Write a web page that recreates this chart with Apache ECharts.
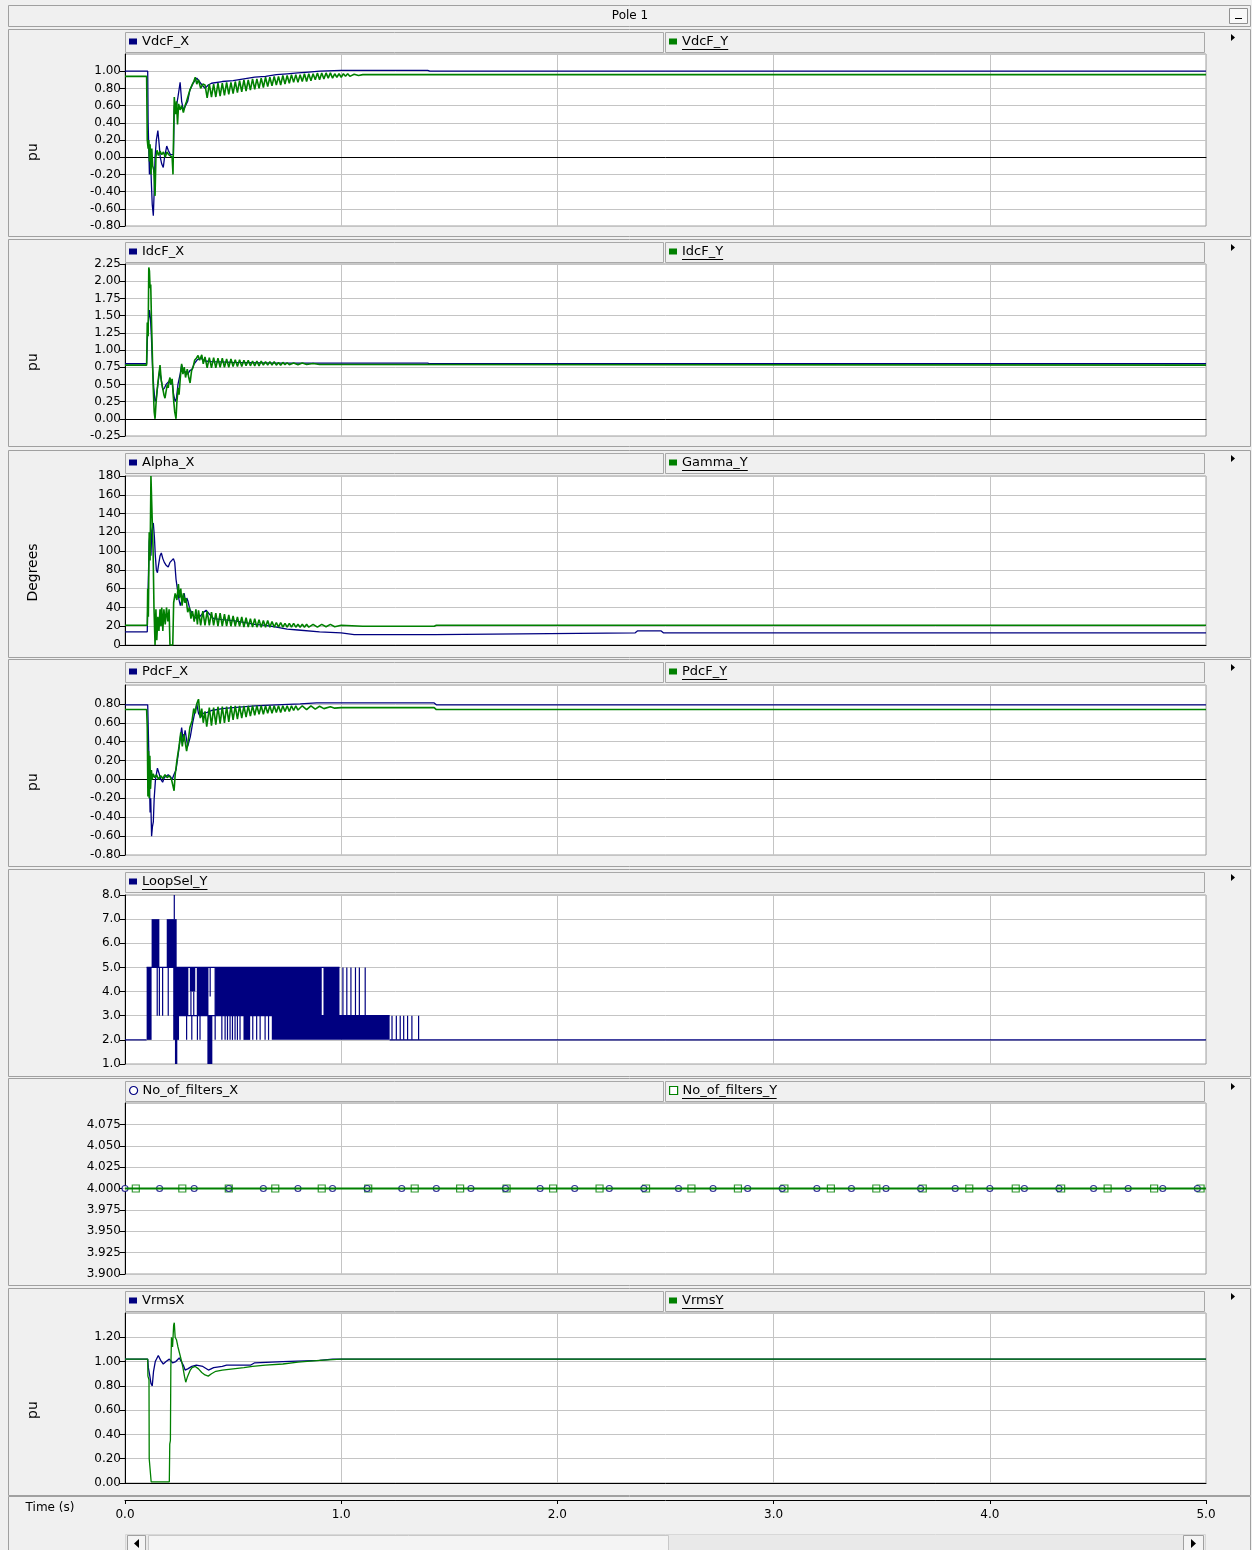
<!DOCTYPE html>
<html>
<head>
<meta charset="utf-8">
<script src="https://cdn.jsdelivr.net/npm/echarts@6/dist/echarts.min.js"></script>
<style>
  html, body { margin: 0; padding: 0; background: #f0f0f0; }
  #chart { width: 1252px; height: 1550px; }
</style>
</head>
<body>
<div id="chart"></div>
<script>
const NAVY = '#000080'
const GREEN = '#008000'
const FONT = '"DejaVu Sans", sans-serif'

// legend names per panel
const legendNames = [
  ['VdcF_X', 'VdcF_Y'],
  ['IdcF_X', 'IdcF_Y'],
  ['Alpha_X', 'Gamma_Y'],
  ['PdcF_X', 'PdcF_Y'],
  ['LoopSel_Y'],
  ['No_of_filters_X', 'No_of_filters_Y'],
  ['VrmsX', 'VrmsY']
]
const axisNames = ['pu', 'pu', 'Degrees', 'pu', '', '', 'pu']
const timeTicks = [0, 1, 2, 3, 4, 5]

// [time s, value]
const vdcX = [[0,1.0],[0.105,1.0],[0.107,0.4],[0.11,0.1],[0.113,-0.2],[0.118,0.0],[0.122,-0.3],[0.126,-0.55],[0.131,-0.68],[0.135,-0.4],[0.139,0.0],[0.145,0.2],[0.152,0.31],[0.158,0.15],[0.163,0.0],[0.17,-0.08],[0.177,-0.12],[0.183,0.0],[0.193,0.13],[0.2,0.08],[0.21,0.03],[0.218,0.05],[0.224,0.03],[0.228,0.6],[0.235,0.55],[0.245,0.7],[0.255,0.87],[0.262,0.65],[0.27,0.55],[0.28,0.6],[0.29,0.65],[0.3,0.78],[0.315,0.86],[0.332,0.92],[0.35,0.86],[0.37,0.8],[0.385,0.84],[0.4,0.86],[0.45,0.88],[0.5,0.89],[0.55,0.91],[0.6,0.93],[0.65,0.94],[0.7,0.96],[0.75,0.97],[0.8,0.98],[0.85,0.99],[0.9,1.0],[1.0,1.01],[1.4,1.01],[1.41,1.0],[5,1.0]]
const vdcY = [[0,0.94],[0.1,0.94],[0.103,0.2],[0.107,0.1],[0.11,0.2],[0.113,-0.05],[0.116,0.15],[0.12,-0.2],[0.124,0.1],[0.128,-0.1],[0.133,-0.15],[0.139,-0.45],[0.143,0.0],[0.148,0.08],[0.155,0.02],[0.162,0.07],[0.17,0.03],[0.178,0.06],[0.186,0.0],[0.194,0.06],[0.202,0.03],[0.21,0.05],[0.218,0.0],[0.222,-0.2],[0.225,0.3],[0.228,0.7],[0.233,0.5],[0.238,0.65],[0.243,0.38],[0.248,0.62],[0.255,0.55],[0.262,0.6],[0.27,0.52],[0.278,0.6],[0.285,0.65],[0.293,0.72],[0.3,0.78],[0.31,0.84],[0.318,0.88],[0.325,0.93],[0.332,0.85],[0.34,0.9],[0.35,0.8],[0.36,0.85],
  [0.37,0.84],[0.38,0.69],[0.39,0.85],[0.4,0.7],[0.41,0.85],[0.42,0.7],[0.43,0.86],[0.44,0.71],[0.45,0.86],[0.46,0.72],[0.47,0.87],[0.48,0.73],[0.49,0.87],[0.5,0.74],[0.51,0.88],[0.52,0.75],[0.53,0.89],[0.54,0.76],[0.55,0.9],[0.56,0.77],[0.57,0.9],[0.58,0.78],[0.59,0.91],[0.6,0.79],[0.61,0.91],[0.62,0.8],[0.63,0.92],[0.64,0.81],[0.65,0.93],[0.66,0.82],[0.67,0.93],[0.68,0.83],[0.69,0.94],[0.7,0.84],[0.71,0.94],[0.72,0.84],[0.73,0.95],[0.74,0.85],[0.75,0.95],[0.76,0.86],[0.77,0.96],[0.78,0.87],[0.79,0.96],[0.8,0.87],[0.81,0.96],[0.82,0.88],[0.83,0.97],[0.84,0.88],[0.85,0.97],[0.86,0.89],[0.87,0.97],[0.88,0.9],[0.89,0.98],[0.9,0.9],[0.91,0.98],[0.92,0.91],[0.93,0.98],[0.94,0.92],[0.95,0.98],[0.96,0.92],[0.97,0.97],[0.98,0.93],[0.99,0.97],[1.0,0.93],[1.01,0.97],[1.02,0.94],[1.03,0.97],[1.04,0.94],[1.06,0.965],[1.08,0.95],[1.1,0.96],[5,0.96]]

const idcX = [[0,0.8],[0.1,0.8],[0.104,1.2],[0.108,1.4],[0.113,1.58],[0.118,1.45],[0.122,1.2],[0.127,0.78],[0.133,0.45],[0.139,0.25],[0.145,0.3],[0.152,0.5],[0.16,0.7],[0.167,0.58],[0.175,0.42],[0.183,0.45],[0.19,0.5],[0.198,0.48],[0.205,0.55],[0.212,0.5],[0.218,0.55],[0.225,0.35],[0.232,0.25],[0.238,0.3],[0.245,0.5],[0.255,0.65],[0.262,0.78],[0.27,0.7],[0.28,0.68],[0.29,0.65],[0.3,0.7],[0.31,0.72],[0.32,0.8],[0.335,0.86],[0.35,0.88],[0.37,0.84],[0.4,0.83],[0.5,0.82],[0.7,0.81],[1.4,0.81],[1.41,0.8],[5,0.8]]
const idcY = [[0,0.78],[0.1,0.78],[0.103,1.4],[0.107,1.2],[0.11,2.2],[0.113,2.15],[0.116,1.9],[0.119,1.95],[0.122,1.5],[0.126,1.0],[0.13,0.5],[0.135,0.1],[0.139,0.0],[0.143,0.2],[0.148,0.4],[0.155,0.6],[0.162,0.78],[0.168,0.55],[0.174,0.45],[0.18,0.35],[0.185,0.3],[0.19,0.4],[0.196,0.5],[0.2,0.45],[0.204,0.55],[0.208,0.6],[0.213,0.5],[0.218,0.58],[0.224,0.3],[0.23,0.1],[0.236,0.0],[0.24,0.25],[0.246,0.45],[0.25,0.35],[0.256,0.6],[0.262,0.8],[0.268,0.65],[0.274,0.75],[0.28,0.6],[0.288,0.72],[0.295,0.6],[0.301,0.52],[0.308,0.7],[0.315,0.75],[0.322,0.85],[0.33,0.88],[0.338,0.92],[0.345,0.85],[0.355,0.93],[0.362,0.8],
  [0.37,0.9],[0.38,0.74],[0.39,0.89],[0.4,0.74],[0.41,0.89],[0.42,0.74],[0.43,0.88],[0.44,0.75],[0.45,0.88],[0.46,0.75],[0.47,0.87],[0.48,0.75],[0.49,0.87],[0.5,0.76],[0.51,0.86],[0.52,0.76],[0.53,0.86],[0.54,0.76],[0.55,0.85],[0.56,0.77],[0.57,0.85],[0.58,0.77],[0.59,0.84],[0.6,0.77],[0.61,0.84],[0.62,0.77],[0.63,0.84],[0.64,0.78],[0.65,0.83],[0.66,0.78],[0.67,0.83],[0.68,0.78],[0.69,0.83],[0.7,0.78],[0.71,0.82],[0.72,0.78],[0.73,0.82],[0.74,0.785],[0.75,0.815],[0.76,0.785],[0.78,0.81],[0.8,0.785],[0.82,0.81],[0.84,0.79],[0.87,0.805],[0.9,0.79],[1.0,0.79],[5,0.78]]

const alphaX = [[0,14],[0.103,14],[0.105,40],[0.108,70],[0.112,110],[0.116,120],[0.12,95],[0.124,122],[0.131,130],[0.136,115],[0.14,96],[0.145,80],[0.15,77],[0.155,85],[0.162,95],[0.168,98],[0.175,92],[0.182,88],[0.19,85],[0.2,83],[0.208,88],[0.216,90],[0.224,92],[0.23,88],[0.236,70],[0.242,60],[0.25,48],[0.256,42],[0.262,40],[0.268,52],[0.274,55],[0.28,45],[0.286,50],[0.292,46],[0.3,38],[0.31,34],[0.32,30],[0.332,28],[0.345,30],[0.36,34],[0.375,37],[0.39,33],[0.41,28],[0.45,27],[0.5,26],[0.55,24],[0.6,22],[0.65,21],[0.7,19],[0.75,17],[0.8,16],[0.9,14],[1.0,13],[1.06,11],[1.435,11],[1.44,13],[2.36,13],[2.37,15],[2.48,15],[2.49,13],[5,13]]
const gammaY = [[0,21],[0.103,21],[0.105,60],[0.108,30],[0.112,120],[0.116,90],[0.12,180],[0.126,180],[0.13,100],[0.134,40],[0.139,0],[0.143,38],[0.147,5],[0.152,30],[0.157,15],[0.162,38],[0.166,20],[0.17,40],[0.175,15],[0.18,38],[0.186,22],[0.192,40],[0.198,25],[0.204,38],[0.208,0],[0.221,0],[0.225,45],[0.232,55],[0.24,48],[0.247,65],[0.252,50],[0.258,60],[0.264,42],[0.27,55],[0.276,45],[0.282,50],[0.29,35],[0.298,40],[0.305,28],[0.312,36],[0.32,25],[0.328,38],[0.335,22],
  [0.34,37],[0.35,21],[0.36,36],[0.37,21],[0.38,36],[0.39,21],[0.4,35],[0.41,21],[0.42,34],[0.43,20],[0.44,34],[0.45,20],[0.46,33],[0.47,20],[0.48,32],[0.49,20],[0.5,31],[0.51,20],[0.52,30],[0.53,20],[0.54,30],[0.55,19],[0.56,29],[0.57,19],[0.58,28],[0.59,19],[0.6,28],[0.61,19],[0.62,27],[0.63,19],[0.64,26],[0.65,19],[0.66,26],[0.67,19],[0.68,25],[0.69,19],[0.7,24],[0.71,19],[0.72,24],[0.73,19],[0.74,23],[0.75,19],[0.76,23],[0.77,19],[0.78,23],[0.79,19],[0.8,22],[0.81,19],[0.82,22],[0.83,19],[0.84,22],[0.85,19],[0.87,22],[0.89,19],[0.91,22],[0.93,19.5],[0.95,22],[0.97,19.5],[1.0,21],[1.1,20],[1.43,20],[1.44,21],[5,21]]

const pdcX = [[0,0.79],[0.105,0.79],[0.108,0.5],[0.113,0.0],[0.116,-0.35],[0.119,-0.2],[0.123,-0.6],[0.127,-0.5],[0.131,-0.45],[0.135,-0.2],[0.141,0.0],[0.15,0.12],[0.159,0.1],[0.166,0.0],[0.174,-0.03],[0.182,0.02],[0.19,0.0],[0.2,0.05],[0.21,0.03],[0.218,0.0],[0.226,0.05],[0.236,0.1],[0.248,0.3],[0.262,0.55],[0.27,0.4],[0.278,0.52],[0.29,0.35],[0.302,0.45],[0.313,0.6],[0.322,0.7],[0.332,0.8],[0.34,0.7],[0.35,0.66],[0.36,0.7],[0.38,0.71],[0.4,0.73],[0.45,0.75],[0.5,0.76],[0.6,0.78],[0.7,0.79],[0.81,0.8],[0.887,0.81],[1.43,0.81],[1.44,0.79],[5,0.79]]
const pdcY = [[0,0.74],[0.1,0.74],[0.103,0.55],[0.106,-0.18],[0.109,0.3],[0.112,-0.2],[0.115,0.25],[0.118,-0.1],[0.122,0.1],[0.126,0.0],[0.13,0.06],[0.138,0.02],[0.146,0.05],[0.155,0.0],[0.165,0.04],[0.175,0.01],[0.185,0.05],[0.195,0.02],[0.205,0.04],[0.215,0.0],[0.222,0.02],[0.227,-0.12],[0.232,0.05],[0.24,0.2],[0.25,0.35],[0.258,0.5],[0.265,0.35],[0.272,0.48],[0.278,0.4],[0.285,0.3],[0.293,0.42],[0.3,0.55],[0.31,0.62],[0.318,0.75],[0.325,0.7],[0.332,0.8],[0.34,0.85],[0.348,0.65],[0.355,0.75],[0.362,0.6],[0.37,0.72],[0.378,0.56],
  [0.39,0.76],[0.4,0.57],[0.41,0.76],[0.42,0.58],[0.43,0.77],[0.44,0.59],[0.45,0.77],[0.46,0.6],[0.47,0.77],[0.48,0.61],[0.49,0.78],[0.5,0.63],[0.51,0.78],[0.52,0.64],[0.53,0.78],[0.54,0.65],[0.55,0.78],[0.56,0.66],[0.57,0.78],[0.58,0.67],[0.59,0.78],[0.6,0.68],[0.61,0.78],[0.62,0.69],[0.63,0.78],[0.64,0.69],[0.65,0.78],[0.66,0.7],[0.67,0.78],[0.68,0.7],[0.69,0.78],[0.7,0.71],[0.71,0.78],[0.72,0.71],[0.73,0.78],[0.74,0.72],[0.75,0.78],[0.76,0.72],[0.77,0.78],[0.78,0.73],[0.79,0.78],[0.8,0.735],[0.82,0.78],[0.84,0.74],[0.86,0.78],[0.88,0.745],[0.9,0.775],[0.92,0.75],[0.95,0.77],[0.97,0.755],[1.0,0.76],[1.43,0.76],[1.44,0.74],[5,0.74]]

// LoopSel_Y: fast switching shown as filled spans [t0, t1, low, high]
const loopBands = [[0.100,0.123,2,5],[0.123,0.159,5,7],[0.193,0.239,5,7],[0.223,0.293,3,5],[0.223,0.250,2,3],[0.231,0.242,1,3],[0.30,0.325,4,5],[0.332,0.386,3,5],[0.381,0.404,1,3],[0.417,0.91,3,5],[0.918,0.992,3,5],[0.548,0.579,2,3],[0.679,1.224,2,3]]
// single switching pulses [t, low, high]
const loopSpikes = [[0.149,3,5],[0.159,3,5],[0.174,3,5],[0.2,3,5],[0.228,7,8],[0.285,2,3],[0.309,2,3],[0.335,2,3],[0.347,2,3],[0.305,3,4],[0.318,3,4],[0.394,3.8,5],[0.417,2,5],[0.448,2,3],[0.463,2,3],[0.474,2,3],[0.486,2,3],[0.497,2,3],[0.509,2,3],[0.52,2,3],[0.532,2,3],[0.591,2,3],[0.609,2,3],[0.625,2,3],[0.648,2,3],[0.664,2,3],[1.008,3,5],[1.026,3,5],[1.045,3,5],[1.066,3,5],[1.084,3,5],[1.111,3,5],[1.235,2,3],[1.255,2,3],[1.273,2,3],[1.289,2,3],[1.307,2,3],[1.327,2,3],[1.358,2,3]]
// held levels [t0, t1, value]
const loopLevels = [[0,0.1,2],[0.1,0.992,5],[0.223,1.224,3],[1.224,5,2]]

const filtXValue = 4.0
const filtYValue = 4.0
const filtXTimes = [0,0.16,0.32,0.48,0.64,0.8,0.96,1.12,1.28,1.44,1.6,1.76,1.92,2.08,2.24,2.4,2.56,2.72,2.88,3.04,3.2,3.36,3.52,3.68,3.84,4.0,4.16,4.32,4.48,4.64,4.8,4.96]
const filtYTimes = [0.05,0.265,0.48,0.695,0.91,1.125,1.34,1.55,1.765,1.98,2.195,2.41,2.62,2.835,3.05,3.265,3.475,3.69,3.905,4.12,4.33,4.545,4.76,4.975]

const vrmsX = [[0,1.02],[0.105,1.02],[0.108,0.95],[0.115,0.88],[0.12,0.82],[0.126,0.8],[0.132,0.92],[0.14,1.0],[0.154,1.05],[0.165,1.01],[0.177,0.98],[0.19,1.0],[0.205,1.02],[0.22,0.99],[0.235,1.0],[0.251,1.03],[0.26,1.02],[0.27,0.97],[0.278,0.93],[0.29,0.94],[0.309,0.96],[0.33,0.97],[0.36,0.96],[0.386,0.93],[0.41,0.95],[0.45,0.96],[0.47,0.97],[0.58,0.97],[0.6,0.99],[0.73,1.0],[0.9,1.01],[0.96,1.02],[5,1.02]]
const vrmsY = [[0,1.02],[0.105,1.02],[0.106,0.88],[0.111,0.85],[0.112,0.2],[0.118,0.2],[0.121,0.01],[0.205,0.01],[0.207,0.32],[0.21,0.35],[0.212,0.95],[0.215,1.2],[0.22,1.12],[0.225,1.3],[0.228,1.32],[0.232,1.2],[0.238,1.18],[0.245,1.12],[0.255,1.05],[0.262,1.0],[0.268,0.95],[0.275,0.88],[0.281,0.83],[0.288,0.87],[0.295,0.86],[0.302,0.93],[0.31,0.95],[0.325,0.96],[0.34,0.94],[0.355,0.91],[0.37,0.89],[0.385,0.88],[0.4,0.9],[0.42,0.92],[0.45,0.93],[0.5,0.94],[0.55,0.95],[0.59,0.96],[0.65,0.97],[0.73,0.98],[0.8,0.995],[0.9,1.01],[1.0,1.02],[5,1.02]]

// layout
const frameTops = [29, 239, 450, 659, 869, 1078, 1288]
const panels = [
  { top: 54, height: 172, min: -0.8, max: 1.2, step: 0.2, digits: 2, hideMax: true, zeroLine: true },
  { top: 264, height: 172, min: -0.25, max: 2.25, step: 0.25, digits: 2, hideMax: false, zeroLine: true },
  { top: 476, height: 169, min: 0, max: 180, step: 20, digits: 0, hideMax: false, zeroLine: true },
  { top: 685, height: 170, min: -0.8, max: 1.0, step: 0.2, digits: 2, hideMax: true, zeroLine: true },
  { top: 895, height: 169, min: 1, max: 8, step: 1, digits: 1, hideMax: false, zeroLine: false },
  { top: 1103, height: 171, min: 3.9, max: 4.1, step: 0.025, digits: 3, hideMax: true, zeroLine: false },
  { top: 1313, height: 170, min: 0, max: 1.4, step: 0.2, digits: 2, hideMax: true, zeroLine: true }
]
const PLOT_LEFT = 125
const PLOT_WIDTH = 1081

const chart = echarts.init(document.getElementById('chart'))

const fmt = (d) => (v) => (Math.abs(v) < 1e-9 ? 0 : v).toFixed(d)

const grids = []
const xAxes = []
const yAxes = []
panels.forEach((p, i) => {
  grids.push({ left: PLOT_LEFT, width: PLOT_WIDTH, top: p.top, height: p.height, show: true, backgroundColor: '#fff', borderColor: '#a0a0a0', borderWidth: 1 })
  xAxes.push({
    gridIndex: i, type: 'value', min: 0, max: 5, interval: 1,
    axisLine: { show: p.zeroLine, onZero: true, lineStyle: { color: '#000', width: 1 } },
    axisTick: { show: false }, axisLabel: { show: false },
    splitLine: { show: true, lineStyle: { color: '#c4c4c4', width: 1 } }
  })
  yAxes.push({
    gridIndex: i, type: 'value', min: p.min, max: p.max, interval: p.step,
    axisLine: { show: true, lineStyle: { color: '#000' } },
    axisTick: { show: true, length: 5, lineStyle: { color: '#000' } },
    axisLabel: { color: '#000', fontSize: 12, fontFamily: FONT, margin: 4, showMaxLabel: !p.hideMax, showMinLabel: true, formatter: fmt(p.digits) },
    splitLine: { show: true, lineStyle: { color: '#c4c4c4', width: 1 } }
  })
})
// shared time axis at the bottom
grids.push({ left: PLOT_LEFT, width: PLOT_WIDTH, top: 1499, height: 1, show: false })
xAxes.push({
  gridIndex: 7, type: 'value', min: timeTicks[0], max: timeTicks[timeTicks.length - 1], interval: 1, position: 'bottom',
  axisLine: { show: true, onZero: false, lineStyle: { color: '#000' } },
  axisTick: { show: true, length: 4, lineStyle: { color: '#000' } },
  axisLabel: { color: '#000', fontSize: 12, fontFamily: FONT, margin: 9, formatter: fmt(1) },
  splitLine: { show: false }
})
yAxes.push({ gridIndex: 7, type: 'value', min: 0, max: 1, show: false })

function line(name, idx, data, color, width) {
  return {
    name, type: 'line', xAxisIndex: idx, yAxisIndex: idx, data,
    showSymbol: false, symbol: 'none', silent: true,
    lineStyle: { color, width }, itemStyle: { color }
  }
}

// LoopSel drawn through the axis scales
const loopSegs = loopSpikes.map(s => [s[0], s[1], s[0], s[2]])
  .concat(loopLevels.map(l => [l[0], l[2], l[1], l[2]]))

const series = [
  line('VdcF_X', 0, vdcX, NAVY, 1.3),
  line('VdcF_Y', 0, vdcY, GREEN, 1.6),
  line('IdcF_X', 1, idcX, NAVY, 1.3),
  line('IdcF_Y', 1, idcY, GREEN, 1.6),
  line('Alpha_X', 2, alphaX, NAVY, 1.3),
  line('Gamma_Y', 2, gammaY, GREEN, 1.6),
  line('PdcF_X', 3, pdcX, NAVY, 1.3),
  line('PdcF_Y', 3, pdcY, GREEN, 1.6),
  {
    name: 'LoopSel_Y', type: 'custom', xAxisIndex: 4, yAxisIndex: 4, silent: true,
    itemStyle: { color: NAVY }, data: loopBands, encode: { x: [0, 1], y: [2, 3] },
    renderItem: (params, api) => {
      const a = api.coord([api.value(0), api.value(3)])
      const b = api.coord([api.value(1), api.value(2)])
      return { type: 'rect', shape: { x: a[0], y: a[1], width: Math.max(b[0] - a[0], 1), height: b[1] - a[1] }, style: { fill: NAVY } }
    }
  },
  {
    name: 'LoopSel_Y', type: 'custom', xAxisIndex: 4, yAxisIndex: 4, silent: true,
    itemStyle: { color: NAVY }, data: loopSegs, encode: { x: [0, 2], y: [1, 3] },
    renderItem: (params, api) => {
      const a = api.coord([api.value(0), api.value(1)])
      const b = api.coord([api.value(2), api.value(3)])
      return { type: 'line', shape: { x1: a[0], y1: a[1], x2: b[0], y2: b[1] }, style: { stroke: NAVY, lineWidth: 1.2 } }
    }
  },
  line('No_of_filters_X', 5, [[0, filtXValue], [5, filtXValue]], NAVY, 1),
  line('No_of_filters_Y', 5, [[0, filtYValue], [5, filtYValue]], GREEN, 2),
  {
    name: 'No_of_filters_Y', type: 'scatter', xAxisIndex: 5, yAxisIndex: 5, silent: true,
    data: filtYTimes.map(t => [t, filtYValue]), symbol: 'rect', symbolSize: 7,
    itemStyle: { color: 'rgba(255,255,255,0)', borderColor: GREEN, borderWidth: 1.2 }
  },
  {
    name: 'No_of_filters_X', type: 'scatter', xAxisIndex: 5, yAxisIndex: 5, silent: true,
    data: filtXTimes.map(t => [t, filtXValue]), symbol: 'circle', symbolSize: 6,
    itemStyle: { color: '#fff', borderColor: NAVY, borderWidth: 1.2 }
  },
  line('VrmsX', 6, vrmsX, NAVY, 1.3),
  line('VrmsY', 6, vrmsY, GREEN, 1.3)
]

// legends: one per entry, placed in the header bars
const legends = []
const graphics = []
const measure = document.createElement('canvas').getContext('2d')
measure.font = '13px ' + FONT

graphics.push({ type: 'rect', z: -10, shape: { x: 8.5, y: 5.5, width: 1242, height: 21 }, style: { fill: '#f0f0f0', stroke: '#a0a0a0' } })
graphics.push({ type: 'text', z: 10, x: 630, y: 16, style: { text: 'Pole 1', font: '12px ' + FONT, fill: '#000', align: 'center', verticalAlign: 'middle', textAlign: 'center', textVerticalAlign: 'middle' } })
graphics.push({ type: 'rect', z: 10, shape: { x: 1229.5, y: 8.5, width: 18, height: 15 }, style: { fill: '#f8f8f8', stroke: '#909090' } })
graphics.push({ type: 'line', z: 11, shape: { x1: 1235, y1: 18.5, x2: 1242, y2: 18.5 }, style: { stroke: '#000', lineWidth: 1 } })

frameTops.forEach((ft, i) => {
  graphics.push({ type: 'rect', z: -10, shape: { x: 8.5, y: ft + 0.5, width: 1242, height: 207 }, style: { fill: '#f0f0f0', stroke: '#a0a0a0' } })
  const barTop = ft + 3
  const names = legendNames[i]
  const boxes = names.length === 1 ? [[125, 1079]] : [[125, 538], [665, 539]]
  boxes.forEach((b, k) => {
    graphics.push({ type: 'rect', z: -5, shape: { x: b[0] + 0.5, y: barTop + 0.5, width: b[1], height: 20 }, style: { fill: '#f0f0f0', stroke: '#a8a8a8' } })
    const name = names[k]
    const iconLeft = b[0] + 4
    const isFilt = name.indexOf('No_of') === 0
    const color = k === 0 ? NAVY : GREEN
    legends.push({
      left: iconLeft, top: barTop + 3, padding: 0, itemGap: 0, selectedMode: false,
      itemWidth: 8, itemHeight: isFilt ? 8 : 6,
      textStyle: { fontSize: 13, fontFamily: FONT, color: '#000' },
      data: [{
        name,
        icon: isFilt ? (k === 0 ? 'circle' : 'rect') : 'rect',
        itemStyle: isFilt ? { color: '#fff', borderColor: color, borderWidth: 1.2 } : { color }
      }]
    })
    if (name.endsWith('Y')) {
      const tx = iconLeft + 8 + 5
      const w = measure.measureText(name).width
      graphics.push({ type: 'line', z: 10, shape: { x1: tx, y1: barTop + 17.5, x2: tx + w, y2: barTop + 17.5 }, style: { stroke: '#000', lineWidth: 1 } })
    }
  })
  graphics.push({ type: 'polygon', z: 10, shape: { points: [[1231, ft + 5], [1231, ft + 12], [1235, ft + 8.5]] }, style: { fill: '#000' } })
  if (axisNames[i]) {
    const p = panels[i]
    graphics.push({ type: 'text', z: 10, x: 33, y: p.top + p.height / 2 + 12, rotation: Math.PI / 2, style: { text: axisNames[i], font: '14px ' + FONT, fill: '#000', align: 'center', verticalAlign: 'middle', textAlign: 'center', textVerticalAlign: 'middle' } })
  }
})

// time axis frame and scrollbar
graphics.push({ type: 'rect', z: -10, shape: { x: 8.5, y: 1496.5, width: 1242, height: 60 }, style: { fill: '#f0f0f0', stroke: '#a0a0a0' } })
graphics.push({ type: 'text', z: 10, x: 50, y: 1508, style: { text: 'Time (s)', font: '12px ' + FONT, fill: '#000', align: 'center', verticalAlign: 'middle', textAlign: 'center', textVerticalAlign: 'middle' } })
graphics.push({ type: 'rect', z: -5, shape: { x: 125.5, y: 1534.5, width: 1080, height: 18 }, style: { fill: '#e9e9e9', stroke: '#d8d8d8' } })
graphics.push({ type: 'rect', z: -4, shape: { x: 148.5, y: 1535.5, width: 520, height: 16 }, style: { fill: '#f4f4f4', stroke: '#c8c8c8' } })
graphics.push({ type: 'rect', z: -4, shape: { x: 127.5, y: 1535.5, width: 18, height: 16 }, style: { fill: '#f4f4f4', stroke: '#a0a0a0' } })
graphics.push({ type: 'rect', z: -4, shape: { x: 1183.5, y: 1535.5, width: 20, height: 16 }, style: { fill: '#f4f4f4', stroke: '#a0a0a0' } })
graphics.push({ type: 'polygon', z: 10, shape: { points: [[139, 1539], [139, 1548], [134, 1543.5]] }, style: { fill: '#000' } })
graphics.push({ type: 'polygon', z: 10, shape: { points: [[1191, 1539], [1191, 1548], [1196, 1543.5]] }, style: { fill: '#000' } })

chart.setOption({
  animation: false,
  backgroundColor: '#f0f0f0',
  textStyle: { fontFamily: FONT },
  grid: grids,
  xAxis: xAxes,
  yAxis: yAxes,
  legend: legends,
  graphic: { elements: graphics },
  series
})
</script>
</body>
</html>
